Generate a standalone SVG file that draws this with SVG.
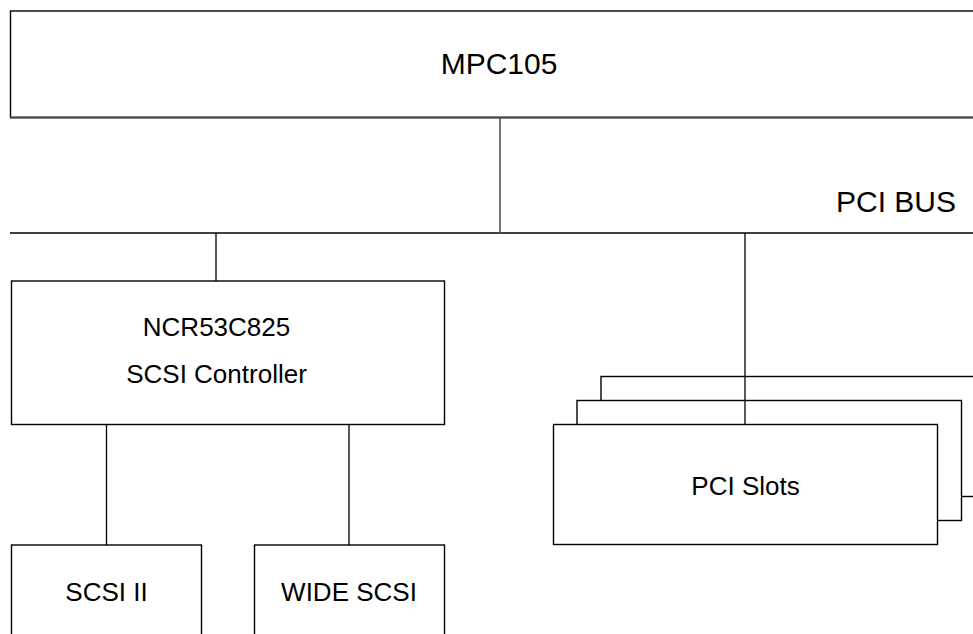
<svg xmlns="http://www.w3.org/2000/svg" width="973" height="634" viewBox="0 0 973 634">
<style>
.box{fill:#fff;stroke:#000;stroke-width:1.4}
.ln{stroke:#000;stroke-width:1.3;fill:none}
.t{font-family:"Liberation Sans",Arial,sans-serif;fill:#000;text-anchor:middle}
.t26{font-size:26px}
.t30{font-size:30px}
</style>
<rect width="973" height="634" fill="#fff"/>
<g id="mpc105">
<rect class="box" x="10.5" y="11" width="980" height="106.5"/>
<line x1="10" y1="117.5" x2="973" y2="117.5" stroke="#444" stroke-width="2"/>
<text class="t t30" x="499" y="74">MPC105</text>
</g>
<g id="pci-bus">
<line class="ln" x1="10" y1="233" x2="973" y2="233"/>
<text class="t t30" x="956" y="212" text-anchor="end" style="text-anchor:end">PCI BUS</text>
</g>
<g id="pci-slots-back">
<rect class="box" x="601" y="376.5" width="390" height="120"/>
<rect class="box" x="577" y="400.5" width="384.5" height="120"/>
</g>
<g id="connectors">
<line x1="500" y1="118" x2="500" y2="233" stroke="#555" stroke-width="1.6"/>
<line class="ln" x1="216" y1="233" x2="216" y2="281"/>
<line class="ln" x1="745" y1="233" x2="745" y2="424.5"/>
<line class="ln" x1="106.5" y1="424.5" x2="106.5" y2="545"/>
<line class="ln" x1="349" y1="424.5" x2="349" y2="545"/>
</g>
<g id="ncr53c825">
<rect class="box" x="11.5" y="281" width="433" height="143.5"/>
<text class="t t26" x="216.5" y="336">NCR53C825</text>
<text class="t t26" x="216.5" y="383">SCSI Controller</text>
</g>
<g id="pci-slots">
<rect class="box" x="553.5" y="424.5" width="384" height="120"/>
<text class="t t26" x="745.5" y="495">PCI Slots</text>
</g>
<g id="scsi-ii">
<rect class="box" x="11.5" y="545" width="190" height="100"/>
<text class="t t26" x="106.5" y="601">SCSI II</text>
</g>
<g id="wide-scsi">
<rect class="box" x="254.5" y="545" width="190" height="100"/>
<text class="t t26" x="349" y="601">WIDE SCSI</text>
</g>
</svg>
